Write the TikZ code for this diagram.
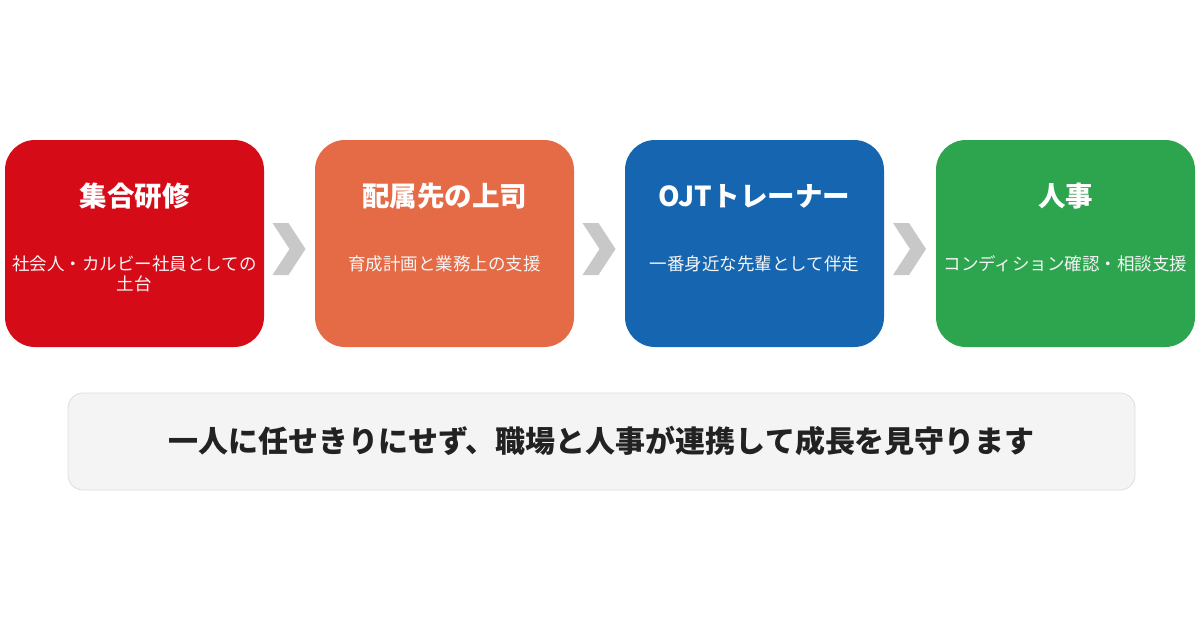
\documentclass[tikz,border=0pt]{standalone}
\usepackage{fontspec}
\setmainfont{Noto Sans CJK JP}
\usetikzlibrary{positioning,calc}

\definecolor{stagered}{HTML}{D50C18}
\definecolor{stageorange}{HTML}{E56B47}
\definecolor{stageblue}{HTML}{1565B0}
\definecolor{stagegreen}{HTML}{2DA44E}
\definecolor{chevrongray}{HTML}{C8C8C8}
\definecolor{notefill}{HTML}{F4F4F4}
\definecolor{noteline}{HTML}{DEDEDE}
\definecolor{notetext}{HTML}{222222}

\begin{document}
\begin{tikzpicture}[
			x=1pt, y=-1pt,
			% Define styles for nodes
			stage/.style={rectangle, rounded corners=30pt, minimum width=259pt, minimum height=207pt, inner sep=0pt},
			head/.style={text=white, anchor=base, font=\fontsize{27.5}{32}\selectfont\bfseries},
			sub/.style={text=white!96!black, anchor=base, align=center, font=\fontsize{17.5}{20}\selectfont},
			chevron/.style={fill=chevrongray},
			note/.style={rectangle, rounded corners=15pt, fill=notefill, draw=noteline, line width=0.8pt, minimum width=1067pt, minimum height=97pt},
			notelabel/.style={text=notetext, font=\fontsize{30}{34}\selectfont\bfseries}
		]
		\useasboundingbox[fill=white] (0,0) rectangle (1200,630);

		% Stages
		\node[stage, fill=stagered] (training) at (134.5,243.5) {};
		\node[stage, fill=stageorange] (boss) at (444.5,243.5) {};
		\node[stage, fill=stageblue] (trainer) at (754.5,243.5) {};
		\node[stage, fill=stagegreen] (hr) at (1065.5,243.5) {};

		% Titles and notes
		\node[head] (traininghead) at ([yshift=-67pt]training.north) {集合研修};
		\node[head] (bosshead) at ([yshift=-67pt]boss.north) {配属先の上司};
		\node[head] (trainerhead) at ([yshift=-67pt]trainer.north) {OJTトレーナー};
		\node[head] (hrhead) at ([yshift=-67pt]hr.north) {人事};
		\node[sub] (trainingsub) at ([yshift=-151pt]training.north) {社会人・カルビー社員としての\\土台};
		\node[sub] (bosssub) at ([yshift=-131pt]boss.north) {育成計画と業務上の支援};
		\node[sub] (trainersub) at ([yshift=-131pt]trainer.north) {一番身近な先輩として伴走};
		\node[sub] (hrsub) at ([yshift=-131pt]hr.north) {コンディション確認・相談支援};

		% Chevrons between stages
		\foreach \a/\b in {training/boss, boss/trainer, trainer/hr}{
			\coordinate (m) at ($(\a.east)!0.5!(\b.west)+(0,5.5)$);
			\fill[chevron] ($(m)+(-17,-26)$) -- ++(16,0) -- ++(17,26) -- ++(-17,26) -- ++(-16,0) -- ++(17,-26) -- cycle;
		}

		% Bottom note
		\node[note] (summary) at (601.5,441.5) {};
		\node[notelabel] at ([yshift=1pt]summary.center) {一人に任せきりにせず、職場と人事が連携して成長を見守ります};
	\end{tikzpicture}
\end{document}
